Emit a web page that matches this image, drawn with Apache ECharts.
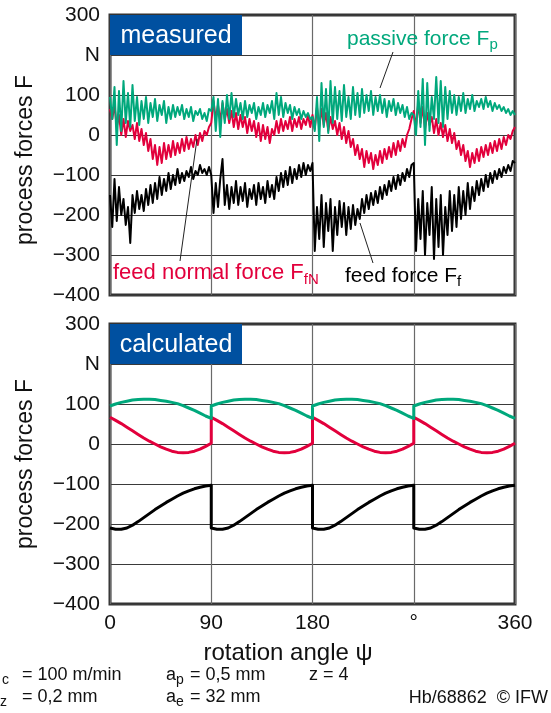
<!DOCTYPE html>
<html>
<head>
<meta charset="utf-8">
<script src="https://cdn.jsdelivr.net/npm/echarts@6/dist/echarts.min.js"></script>
<style>
  html, body { margin: 0; padding: 0; background: #fff; }
  #chart { width: 551px; height: 713px; }
</style>
</head>
<body>
<div id="chart"></div>
<script>
// measured forces, one value every 2 degrees from 0 to 360
var measStep = 2;
var measPassive = [
  95, 40, 120, -25, 110, 10, 135, 30, 105, 20,
  125, 35, 95, 25, 85, 40, 95, 30, 80, 45,
  90, 35, 75, 50, 85, 30, 70, 40, 75, 45,
  70, 50, 75, 40, 65, 45, 70, 35, 60, 50,
  65, 40, 55, 35, 65,
  60, 95, 10, 90, -5, 85, 30, 100, 40, 105,
  45, 90, 50, 80, 40, 85, 45, 75, 55, 80,
  40, 70, 50, 80, 45, 75, 55, 85, 40, 105,
  50, 95, 45, 80, 55, 75, 40, 70, 50, 65,
  40, 60, 45, 55, 40,
  45, 10, 95, -15, 130, 20, 115, 5, 135, 30,
  120, 40, 110, 35, 125, 45, 95, 40, 120, 50,
  105, 45, 115, 55, 100, 60, 110, 50, 95, 60,
  100, 55, 90, 45, 85, 60, 90, 50, 80, 55,
  75, 45, 70, 40, 55,
  50, 0, 110, 20, 140, -25, 130, 10, 95, 40,
  145, 30, 135, 20, 120, 40, 110, 55, 100, 50,
  95, 60, 105, 55, 90, 65, 100, 60, 85, 70,
  90, 65, 95, 70, 85, 60, 80, 65, 75, 60,
  70, 55, 65, 50, 60, 50
];
var measFeedNormal = [
  65, 40, 75, 20, 50, 0, 40, -5, 35, 10,
  25, -10, 30, -15, 15, -25, 5, -40, -10, -60,
  -25, -75, -30, -70, -20, -60, -25, -55, -15, -50,
  -20, -45, -10, -40, -5, -35, -10, -30, 0, -25,
  5, -15, 10, 0, 20,
  30, 85, 40, 75, 35, 80, 40, 65, 30, 60,
  20, 55, 15, 50, 20, 45, 5, 40, 10, 35,
  -5, 30, -15, 25, -10, 20, -20, 15, 0, 35,
  5, 40, 10, 35, 15, 45, 10, 40, 20, 45,
  15, 40, 25, 50, 20,
  50, 15, 70, 20, 65, 25, 55, 10, 45, 15,
  35, 0, 30, -10, 20, -20, 10, -30, -10, -50,
  -25, -60, -35, -80, -40, -70, -45, -85, -50, -75,
  -40, -70, -35, -60, -30, -55, -20, -50, -15, -40,
  -10, -30, 0, 15, 40,
  60, 20, 80, 30, 70, 15, 55, 25, 45, 5,
  40, 0, 30, -5, 25, -15, 15, -20, 5, -35,
  -15, -50, -25, -65, -40, -80, -45, -70, -35, -65,
  -30, -55, -25, -50, -20, -45, -15, -40, -10, -35,
  -5, -25, 0, -10, 10, 20
];
var measFeed = [
  -150, -230, -110, -215, -130, -200, -160, -225, -180, -270,
  -150, -195, -140, -185, -150, -190, -135, -175, -125, -170,
  -120, -160, -105, -150, -110, -140, -95, -135, -100, -125,
  -85, -120, -95, -115, -90, -105, -80, -110, -90, -100,
  -75, -95, -85, -100, -80,
  -100, -195, -120, -180, -110, -60, -175, -125, -185, -130,
  -170, -115, -175, -130, -165, -120, -180, -135, -160, -125,
  -175, -120, -160, -130, -170, -115, -155, -125, -160, -105,
  -140, -95, -130, -90, -125, -80, -120, -85, -110, -75,
  -105, -70, -100, -75, -90,
  -70, -290, -180, -260, -150, -280, -170, -240, -160, -290,
  -180, -250, -165, -230, -170, -250, -180, -235, -175, -225,
  -185, -210, -160, -195, -150, -185, -145, -175, -140, -170,
  -130, -160, -125, -150, -115, -140, -105, -135, -100, -125,
  -95, -115, -85, -105, -75,
  -70, -290, -160, -260, -140, -300, -170, -250, -130, -310,
  -160, -280, -150, -300, -180, -250, -140, -240, -150, -230,
  -130, -210, -140, -200, -120, -185, -130, -165, -115, -150,
  -110, -140, -100, -130, -95, -120, -90, -110, -85, -105,
  -80, -95, -75, -90, -65, -70
];

// calculated forces, one value every 5 degrees, each 90 degree tooth period from start to end
var calcStep = 5;
var calcPeriod = 90;
var calcPassive = [
  [95, 100, 104, 107, 110, 111, 112, 112, 111, 109, 107, 104, 101, 96, 90, 84, 77, 70, 64],
  [95, 100, 104, 107, 110, 111, 112, 112, 111, 109, 107, 104, 101, 96, 90, 84, 77, 70, 64],
  [95, 100, 104, 107, 110, 111, 112, 112, 111, 109, 107, 104, 101, 96, 90, 84, 77, 70, 64],
  [95, 100, 104, 107, 110, 111, 112, 112, 111, 109, 107, 104, 101, 96, 90, 84, 77, 70, 64]
];
var calcFeedNormal = [
  [67, 59, 51, 42, 33, 24, 15, 7, 0, -7, -13, -18, -21, -22, -21, -18, -13, -6, 2],
  [67, 59, 51, 42, 33, 24, 15, 7, 0, -7, -13, -18, -21, -22, -21, -18, -13, -6, 2],
  [67, 59, 51, 42, 33, 24, 15, 7, 0, -7, -13, -18, -21, -22, -21, -18, -13, -6, 2],
  [67, 59, 51, 42, 33, 24, 15, 7, 0, -7, -13, -18, -21, -22, -21, -18, -13, -6, 2]
];
var calcFeed = [
  [-210, -213, -213, -210, -203, -194, -184, -174, -164, -155, -146, -138, -130, -123, -117, -112, -108, -105, -103],
  [-210, -213, -213, -210, -203, -194, -184, -174, -164, -155, -146, -138, -130, -123, -117, -112, -108, -105, -103],
  [-210, -213, -213, -210, -203, -194, -184, -174, -164, -155, -146, -138, -130, -123, -117, -112, -108, -105, -103],
  [-210, -213, -213, -210, -203, -194, -184, -174, -164, -155, -146, -138, -130, -123, -117, -112, -108, -105, -103]
];

var angleTicks = [0, 90, 180, 270, 360];
var angleLabels = ['0', '90', '180', '°', '360'];
var forceTicks = [-400, -300, -200, -100, 0, 100, 200, 300];
var forceLabels = ['−400', '−300', '−200', '−100', '0', '100', 'N', '300'];

var GREEN = '#00a87c';
var RED = '#e2003c';
var BLACK = '#000000';
var BLUE = '#0050a0';
var INK = '#111';
var FONT = 'Liberation Sans, Arial, sans-serif';

function measPairs(vals) {
  return vals.map(function (v, i) { return [i * measStep, v]; });
}
function calcPairs(periods) {
  var out = [];
  periods.forEach(function (vals, p) {
    vals.forEach(function (v, i) { out.push([p * calcPeriod + i * calcStep, v]); });
  });
  return out;
}

var chart = echarts.init(document.getElementById('chart'), null, { renderer: 'canvas' });

function xAxisFor(gridIndex, showLabels) {
  return {
    type: 'value', gridIndex: gridIndex, min: 0, max: 360, interval: 90,
    axisLine: { show: false }, axisTick: { show: false },
    axisLabel: {
      show: showLabels, margin: 9, color: INK, fontSize: 21, fontFamily: FONT,
      formatter: function (v) { return angleLabels[angleTicks.indexOf(v)]; }
    },
    splitLine: { show: true, lineStyle: { color: '#6a6a6a', width: 1.2 } }
  };
}
function yAxisFor(gridIndex) {
  return {
    type: 'value', gridIndex: gridIndex, min: -400, max: 300, interval: 100,
    axisLine: { show: false }, axisTick: { show: false },
    axisLabel: {
      margin: 10, color: INK, fontSize: 21, fontFamily: FONT,
      formatter: function (v) { return forceLabels[forceTicks.indexOf(v)]; }
    },
    splitLine: { show: true, lineStyle: { color: '#3a3a3a', width: 1.2 } }
  };
}
function lineSeries(name, data, color, width, axis) {
  return {
    name: name, type: 'line', data: data, xAxisIndex: axis, yAxisIndex: axis,
    showSymbol: false, symbol: 'none', animation: false,
    lineStyle: { color: color, width: width, join: 'round' }
  };
}

// label with a subscript part, using rich text
function subLabel(x, y, main, subText, color, size, subSize) {
  return {
    type: 'text', x: x, y: y, z: 12,
    style: {
      text: '{a|' + main + '}{s|' + subText + '}', align: 'left', verticalAlign: 'middle',
      rich: {
        a: { fontSize: size, fontFamily: FONT, fill: color },
        s: { fontSize: subSize, fontFamily: FONT, fill: color, verticalAlign: 'bottom', padding: [0, 0, -3, 0] }
      }
    }
  };
}
function plainText(x, y, text, size, align) {
  return { type: 'text', x: x, y: y, style: { text: text, fill: INK, font: size + 'px ' + FONT, align: align || 'left', verticalAlign: 'middle' } };
}

chart.setOption({
  backgroundColor: '#fff',
  animation: false,
  grid: [
    { left: 110, top: 15, width: 405, height: 280, show: true, borderColor: '#333', borderWidth: 3, backgroundColor: 'transparent' },
    { left: 110, top: 324, width: 405, height: 280, show: true, borderColor: '#333', borderWidth: 3, backgroundColor: 'transparent' }
  ],
  xAxis: [xAxisFor(0, false), xAxisFor(1, true)],
  yAxis: [yAxisFor(0), yAxisFor(1)],
  series: [
    lineSeries('feed force', measPairs(measFeed), BLACK, 2, 0),
    lineSeries('feed normal force', measPairs(measFeedNormal), RED, 2, 0),
    lineSeries('passive force', measPairs(measPassive), GREEN, 2, 0),
    lineSeries('feed force calc', calcPairs(calcFeed), BLACK, 3, 1),
    lineSeries('feed normal force calc', calcPairs(calcFeedNormal), RED, 3, 1),
    lineSeries('passive force calc', calcPairs(calcPassive), GREEN, 3, 1)
  ],
  graphic: [
    { type: 'rect', shape: { x: 110, y: 15, width: 132, height: 40 }, style: { fill: BLUE }, z: 10 },
    { type: 'text', x: 176, y: 36, z: 11, style: { text: 'measured', fill: '#fff', font: '25px ' + FONT, align: 'center', verticalAlign: 'middle' } },
    { type: 'rect', shape: { x: 110, y: 324, width: 132, height: 40 }, style: { fill: BLUE }, z: 10 },
    { type: 'text', x: 176, y: 345, z: 11, style: { text: 'calculated', fill: '#fff', font: '25px ' + FONT, align: 'center', verticalAlign: 'middle' } },

    { type: 'text', x: 26, y: 160, rotation: Math.PI / 2, style: { text: 'process forces F', fill: INK, font: '23px ' + FONT, align: 'center', verticalAlign: 'middle' } },
    { type: 'text', x: 26, y: 464, rotation: Math.PI / 2, style: { text: 'process forces F', fill: INK, font: '23px ' + FONT, align: 'center', verticalAlign: 'middle' } },
    plainText(288, 653, 'rotation angle ψ', 24, 'center'),

    subLabel(347, 39, 'passive force F', 'p', GREEN, 21, 15),
    { type: 'line', z: 12, shape: { x1: 393, y1: 52, x2: 380, y2: 88 }, style: { stroke: '#222', lineWidth: 1 } },

    subLabel(113, 273, 'feed normal force F', 'fN', RED, 22, 15),
    { type: 'line', z: 12, shape: { x1: 180, y1: 261, x2: 197, y2: 139 }, style: { stroke: '#222', lineWidth: 1 } },

    subLabel(345, 276, 'feed force F', 'f', '#000', 21, 15),
    { type: 'line', z: 12, shape: { x1: 373, y1: 263, x2: 360, y2: 223 }, style: { stroke: '#222', lineWidth: 1 } },

    // cutting parameters
    plainText(-10, 675, 'v', 18),
    plainText(2, 680, 'c', 14),
    plainText(22, 675, '= 100 m/min', 18),
    plainText(-7, 697, 'f', 18),
    plainText(0, 702, 'z', 14),
    plainText(22, 697, '= 0,2 mm', 18),
    plainText(166, 675, 'a', 18),
    plainText(176, 680, 'p', 14),
    plainText(190, 675, '= 0,5 mm', 18),
    plainText(166, 697, 'a', 18),
    plainText(176, 702, 'e', 14),
    plainText(190, 697, '= 32 mm', 18),
    plainText(309, 675, 'z = 4', 18),
    plainText(548, 698, 'Hb/68862  © IFW', 18, 'right')
  ]
});
</script>
</body>
</html>
